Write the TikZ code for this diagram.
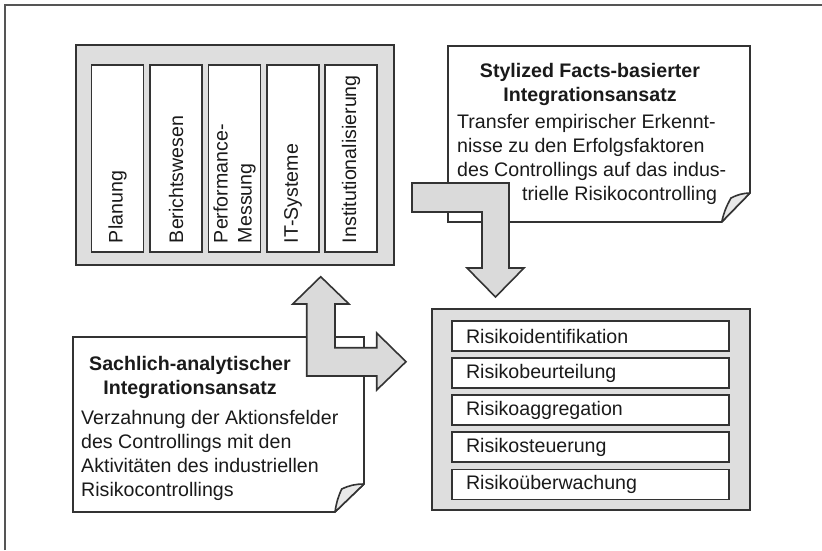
\documentclass[tikz,border=0pt]{standalone}
\usepackage{fontspec}
\setmainfont{Liberation Sans}
\definecolor{linec}{HTML}{333333}
\definecolor{boxgray}{HTML}{DEDEDE}
\definecolor{arrowgray}{HTML}{DADADA}
\definecolor{flapgray}{HTML}{E8E8E8}
\definecolor{textc}{HTML}{1A1A1A}
\definecolor{framec}{HTML}{555555}
\newcommand{\lbl}{\fontsize{19.6}{24}\selectfont}
\newcommand{\lblb}{\fontsize{19.6}{24}\selectfont\bfseries}
\begin{document}
\begin{tikzpicture}[x=1pt,y=-1pt,
  ln/.style={draw=linec, line width=1.6pt},
  bigbox/.style={ln, fill=boxgray, inner sep=0pt},
  colbox/.style={ln, fill=white, rotate=90, minimum width=187pt, minimum height=52pt,
    text width=169pt, inner xsep=9pt, inner ysep=0pt, align=left, font=\lbl, text=textc},
  rowbox/.style={ln, fill=white, minimum width=277pt, minimum height=30pt,
    text width=249pt, inner xsep=14pt, inner ysep=0pt, align=left, font=\lbl, text=textc},
  notepath/.style={ln, fill=white, line join=miter},
  flap/.style={ln, fill=flapgray, line join=round},
  blockarrow/.style={ln, fill=arrowgray, line join=miter},
  txt/.style={inner sep=0pt, text=textc, font=\lbl, align=left},
  ttl/.style={inner sep=0pt, text=textc, font=\lblb, align=center},
]
\useasboundingbox (0,0) rectangle (822,550);
% outer frame (top and left edges)
\draw[draw=framec, line width=1.8pt] (5,550) -- (5,5) -- (822,5);

% top-left box with columns
\node[bigbox, minimum width=318pt, minimum height=220pt] (felder) at (235,155) {};
\node[colbox] (c1) at (117.5,158.5) {Planung};
\node[colbox] (c2) at (176,158.5) {Berichtswesen};
\node[colbox] (c3) at (234.5,158.5) {Performance-\\Messung};
\node[colbox] (c4) at (293,158.5) {IT-Systeme};
\node[colbox] (c5) at (351,158.5) {Institutionalisierung};

% bottom-right box with rows
\node[bigbox, minimum width=318pt, minimum height=201pt] (risiko) at (591,409.5) {};
\node[rowbox] (r1) at (590.5,336) {Risikoidentifikation};
\node[rowbox] (r2) at (590.5,373) {Risikobeurteilung};
\node[rowbox] (r3) at (590.5,410) {Risikoaggregation};
\node[rowbox] (r4) at (590.5,447) {Risikosteuerung};
\node[rowbox] (r5) at (590.5,484.5) {Risikoüberwachung};

% top-right note
\draw[notepath] (448,46) -- (750,46) -- (750,193) -- (721.7,222) -- (448,222) -- cycle;
\draw[flap] (750,193) to[bend right=12] (731,198) to[bend right=8] (721.7,222) -- cycle;
\node[ttl, anchor=north] (t1) at (590,62.7) {Stylized Facts-basierter\\Integrationsansatz};
\node[txt, anchor=north west] (b1) at (457,113.7) {Transfer empirischer Erkennt-\\nisse zu den Erfolgsfaktoren\\des Controllings auf das indus-\\\hspace*{65pt}trielle Risikocontrolling};

% bottom-left note
\draw[notepath] (73,337) -- (364,337) -- (364,484) -- (335,512) -- (73,512) -- cycle;
\draw[flap] (364,484) to[bend right=12] (341.7,489) to[bend right=8] (335,512) -- cycle;
\node[ttl, anchor=north] (t2) at (190,355.7) {Sachlich-analytischer\\Integrationsansatz};
\node[txt, anchor=north west] (b2) at (81,409.7) {Verzahnung der Aktionsfelder\\des Controllings mit den\\Aktivitäten des industriellen\\Risikocontrollings};

% bent arrow from top-right note down to risk box
\draw[blockarrow] (412,183) -- (509,183) -- (509,268) -- (524,268) -- (495.5,297)
  -- (467,268) -- (482,268) -- (482,212) -- (412,212) -- cycle;

% double arrow up to fields box and right to risk box
\draw[blockarrow] (306.7,376) -- (306.7,304) -- (292.7,304) -- (320.7,276.7) -- (349,304)
  -- (335,304) -- (335,347.7) -- (376.7,347.7) -- (376.7,333) -- (406,361.7)
  -- (376.7,390) -- (376.7,376) -- cycle;
\end{tikzpicture}
\end{document}
